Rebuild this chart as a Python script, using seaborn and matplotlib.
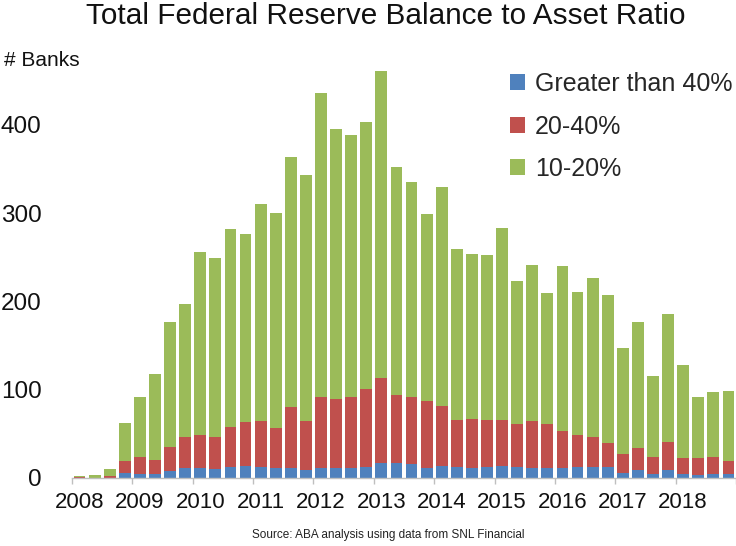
import matplotlib
matplotlib.use("Agg")
import matplotlib.pyplot as plt
from matplotlib.patches import Patch
import seaborn as sns
import pandas as pd
import numpy as np

years = [str(y) for y in range(2008, 2019)]
quarters = [f"{y}Q{q}" for y in range(2008, 2019) for q in range(1, 5)]

# Segment values (number of banks) per quarter
gt40 = [0, 0, 0, 6, 5, 5, 8, 11, 11, 10, 12, 14, 13, 11, 11, 9, 11, 11, 11, 13, 17, 17,
        16, 11, 14, 12, 11, 12, 14, 12, 11, 11, 11, 12, 12, 12, 6, 9, 5, 9, 4, 3, 4, 4]
r20_40 = [1, 0, 2, 13, 19, 15, 27, 35, 38, 37, 46, 49, 52, 46, 69, 56, 81, 79, 81, 88, 96, 77,
          76, 76, 68, 54, 56, 54, 52, 49, 54, 50, 42, 37, 34, 28, 21, 25, 19, 32, 19, 20, 20, 15]
r10_20 = [1, 3, 8, 43, 68, 98, 142, 151, 207, 202, 224, 213, 245, 243, 283, 278, 344, 305, 297, 302, 348, 258,
          243, 212, 248, 193, 187, 186, 217, 162, 176, 148, 187, 162, 180, 167, 120, 143, 92, 145, 105, 69, 73, 79]

series_names = ["Greater than 40%", "20-40%", "10-20%"]
colors = ["#4F81BD", "#C0504D", "#9BBB59"]

df = pd.DataFrame({"quarter": quarters, "gt40": gt40, "r20_40": r20_40, "r10_20": r10_20})
df["top_gt40"] = df["gt40"]
df["top_r20_40"] = df["gt40"] + df["r20_40"]
df["top_r10_20"] = df["top_r20_40"] + df["r10_20"]

sns.set_theme(style="white")
plt.rcParams["font.family"] = ["Liberation Sans", "DejaVu Sans"]

fig = plt.figure(figsize=(7.36, 5.46), dpi=100)
ax = fig.add_axes([72 / 736, 1 - 478 / 546, 1 - 72 / 736, (478 - 63) / 546])

for col, c in zip(["top_r10_20", "top_r20_40", "top_gt40"], [colors[2], colors[1], colors[0]]):
    sns.barplot(data=df, x="quarter", y=col, order=quarters, color=c, saturation=1,
                width=0.78, errorbar=None, linewidth=0, ax=ax)

ax.set_xlim(-0.5, 43.27)
ax.set_ylim(0, 470)
ax.set_xlabel("")
ax.set_ylabel("")

ax.set_xticks(np.arange(0, 44, 4))
ax.set_xticklabels(years, fontsize=16, color="#111111")
ax.set_xticks(np.arange(-0.5, 44, 4), minor=True)
ax.tick_params(axis="x", which="major", length=0, pad=10)
ax.tick_params(axis="x", which="minor", length=4, width=1, color="#BFBFBF", direction="out", bottom=True)

ax.set_yticks([0, 100, 200, 300, 400])
ax.set_yticklabels(["0", "100", "200", "300", "400"], fontsize=17.5, color="#111111")
ax.tick_params(axis="y", length=0, pad=22)

for s in ["top", "right", "left"]:
    ax.spines[s].set_visible(False)
ax.spines["bottom"].set_color("#BFBFBF")
ax.spines["bottom"].set_linewidth(1)

handles = [Patch(facecolor=c, edgecolor="none") for c in colors]
fig.legend(handles, series_names, loc="upper left", bbox_to_anchor=(510 / 736, 1 - 72 / 546),
           frameon=False, fontsize=18, handlelength=0.6, handleheight=0.6, handletextpad=0.4,
           labelspacing=0.74, borderpad=0, borderaxespad=0)

fig.text(386 / 736, 1 - 16 / 546, "Total Federal Reserve Balance to Asset Ratio",
         ha="center", va="center", fontsize=21.4, color="#111111")
fig.text(4 / 736, 1 - 60 / 546, "# Banks", ha="left", va="center", fontsize=15, color="#111111")
fig.text(388 / 736, 1 - 535 / 546, "Source: ABA analysis using data from SNL Financial",
         ha="center", va="center", fontsize=8.5, color="#222222")

fig.savefig("out.png", dpi=100)
